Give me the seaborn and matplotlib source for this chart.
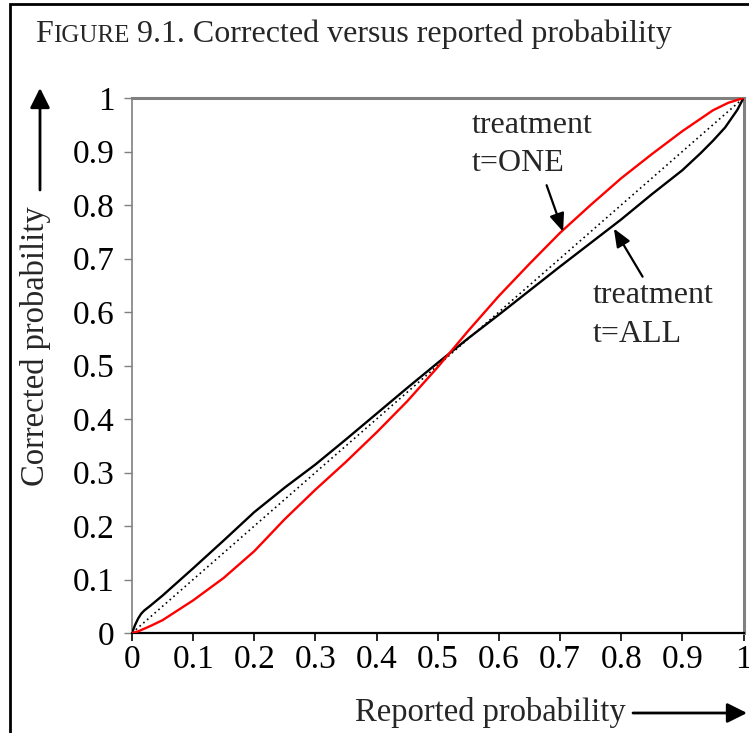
import matplotlib
matplotlib.use("Agg")
import matplotlib.pyplot as plt
import seaborn as sns
import pandas as pd
from matplotlib.patches import Rectangle, FancyArrowPatch

# ---- data ----
reported_all = [0, 0.005, 0.01, 0.015, 0.02, 0.03, 0.05, 0.1, 0.15, 0.2, 0.25, 0.3, 0.35, 0.4,
                0.45, 0.5, 0.55, 0.6, 0.65, 0.7, 0.75, 0.8, 0.85, 0.9, 0.93, 0.95, 0.97, 0.99, 1.0]
corrected_all = [0, 0.015, 0.027, 0.036, 0.042, 0.051, 0.07, 0.121, 0.173, 0.226, 0.272, 0.315, 0.362, 0.41,
                 0.458, 0.505, 0.551, 0.595, 0.64, 0.685, 0.729, 0.773, 0.82, 0.865, 0.897, 0.92, 0.945, 0.978, 1.0]

reported_one = [0, 0.01, 0.03, 0.05, 0.1, 0.15, 0.2, 0.25, 0.3, 0.35, 0.4, 0.45, 0.5, 0.55,
                0.6, 0.65, 0.7, 0.75, 0.8, 0.85, 0.9, 0.95, 0.975, 1.0]
corrected_one = [0, 0.003, 0.013, 0.024, 0.061, 0.103, 0.153, 0.213, 0.268, 0.32, 0.375, 0.433, 0.497, 0.565,
                 0.63, 0.69, 0.748, 0.8, 0.85, 0.895, 0.938, 0.977, 0.991, 1.0]

diag = [0, 1]
tick_values = [0, 0.1, 0.2, 0.3, 0.4, 0.5, 0.6, 0.7, 0.8, 0.9, 1.0]
tick_labels = ["0", "0.1", "0.2", "0.3", "0.4", "0.5", "0.6", "0.7", "0.8", "0.9", "1"]

title_parts = ["F", "IGURE", " 9.1. Corrected versus reported probability"]
xlabel = "Reported probability"
ylabel = "Corrected probability"
label_one = ["treatment", "t=ONE"]
label_all = ["treatment", "t=ALL"]

df = pd.concat([
    pd.DataFrame({"reported": reported_all, "corrected": corrected_all, "treatment": "ALL"}),
    pd.DataFrame({"reported": reported_one, "corrected": corrected_one, "treatment": "ONE"}),
])

sns.set_style("white")
plt.rcParams["font.family"] = ["Liberation Serif", "DejaVu Serif"]

W, H = 749, 733
fig = plt.figure(figsize=(W / 100, H / 100), dpi=100)

def fx(px):
    return px / W

def fy(py):
    return 1 - py / H

x0, x1, y0, y1 = 132, 743.5, 633, 98
ax = fig.add_axes([fx(x0), fy(y0), fx(x1) - fx(x0), fy(y1) - fy(y0)])

ax.plot(diag, diag, color="black", lw=1.2, linestyle=(0, (1, 2)), zorder=2)
sns.lineplot(data=df, x="reported", y="corrected", hue="treatment",
             palette={"ALL": "black", "ONE": "#ff0000"}, sort=True,
             estimator=None, lw=1.7, legend=False, ax=ax, zorder=3)

ax.set_xlim(0, 1)
ax.set_ylim(0, 1)
ax.set_xticks(tick_values)
ax.set_xticklabels(tick_labels)
ax.set_yticks(tick_values)
ax.set_yticklabels(tick_labels)
ax.set_xlabel("")
ax.set_ylabel("")
for s in ("top", "right"):
    ax.spines[s].set_visible(True)
    ax.spines[s].set_color("#808080")
    ax.spines[s].set_linewidth(2.2)
ax.spines["left"].set_color("#808080")
ax.spines["left"].set_linewidth(1.2)
ax.spines["bottom"].set_color("black")
ax.spines["bottom"].set_linewidth(1.6)
ax.tick_params(axis="y", direction="out", length=5.5, width=1, color="#808080",
               labelcolor="black", labelsize=24, pad=7, left=True)
ax.tick_params(axis="x", direction="out", length=5.5, width=1.2, color="black",
               labelcolor="black", labelsize=24, pad=3, bottom=True)

# annotations inside the plot
arrow_kw = dict(arrowstyle="-|>,head_length=1.1,head_width=0.45", mutation_scale=10,
                lw=1.6, color="black", shrinkA=0, shrinkB=0)
ax.annotate("", xy=(0.705, 0.750), xytext=(0.678, 0.837), arrowprops=arrow_kw)
ax.annotate("", xy=(0.788, 0.756), xytext=(0.835, 0.666), arrowprops=arrow_kw)
ax.text(0.5555, 0.934, label_one[0], fontsize=23, ha="left", va="baseline")
ax.text(0.5555, 0.864, label_one[1], fontsize=23, ha="left", va="baseline")
ax.text(0.754, 0.616, label_all[0], fontsize=23, ha="left", va="baseline")
ax.text(0.754, 0.544, label_all[1], fontsize=23, ha="left", va="baseline")

# title with small caps
fig.canvas.draw()
renderer = fig.canvas.get_renderer()
xpos = fx(35)
sizes = [23, 18, 23]
for part, size in zip(title_parts, sizes):
    t = fig.text(xpos, fy(42), part, fontsize=size, ha="left", va="baseline")
    bb = t.get_window_extent(renderer=renderer)
    xpos = bb.x1 / fig.bbox.width

# axis labels and arrows
fig.text(fx(355), fy(721), xlabel, fontsize=23.5, ha="left", va="baseline")
fig.text(fx(36), fy(346), ylabel, fontsize=23.5, rotation=90, ha="center", va="center")
axis_arrow = dict(arrowstyle="-|>,head_length=1.0,head_width=0.5", mutation_scale=12,
                  lw=2, color="black", shrinkA=0, shrinkB=0)
fig.add_artist(FancyArrowPatch((fx(633), fy(713)), (fx(747), fy(713)),
                               transform=fig.transFigure, **axis_arrow))
fig.add_artist(FancyArrowPatch((fx(40), fy(190)), (fx(40), fy(88)),
                               transform=fig.transFigure, **axis_arrow))

# outer frame (left and top edges visible, rest cropped)
fig.add_artist(Rectangle((fx(10), fy(760)), fx(800), fy(4) - fy(760), transform=fig.transFigure,
                         fill=False, edgecolor="black", lw=2, clip_on=False))

fig.savefig("out.png", dpi=100)
